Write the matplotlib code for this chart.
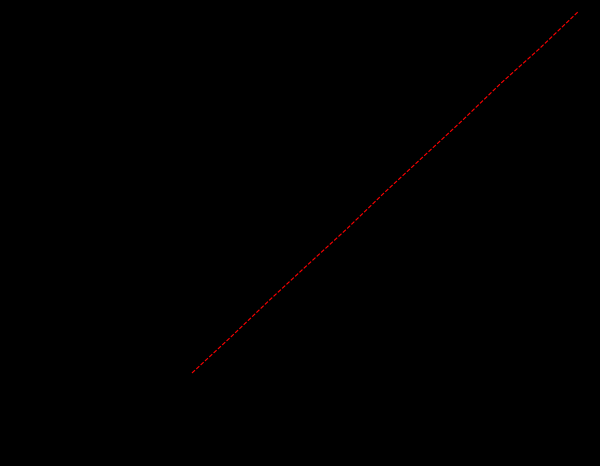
"""Red reference line on a dark (transparent-looking) canvas."""

import matplotlib

matplotlib.use("Agg")
import matplotlib.pyplot as plt

# values (x vs y, close to a straight diagonal)
x_values = [0, 10, 20, 30, 40, 50, 60, 70, 80, 90, 100]
y_values = [0, 9.9, 20.1, 30.0, 39.8, 50.1, 60.0, 69.9, 80.2, 89.8, 100]

BG = "#000000"
LINE = "#ff0000"


def main() -> None:
  fig = plt.figure(figsize=(6.0, 4.66), dpi=100)
  fig.patch.set_facecolor(BG)

  ax = fig.add_axes([0.25, 66 / 466, 0.733, 395 / 466])
  ax.set_facecolor(BG)
  ax.plot(x_values, y_values, color=LINE, linewidth=0.8, linestyle="--")
  ax.set_xlim(-10.88, 103.1)
  ax.set_ylim(-7.48, 101.94)

  for spine in ax.spines.values():
    spine.set_color(BG)
  ax.tick_params(colors=BG)
  ax.set_xticks([])
  ax.set_yticks([])

  fig.savefig("out.png", dpi=100, facecolor=BG)
  plt.close(fig)


if __name__ == "__main__":
  main()
